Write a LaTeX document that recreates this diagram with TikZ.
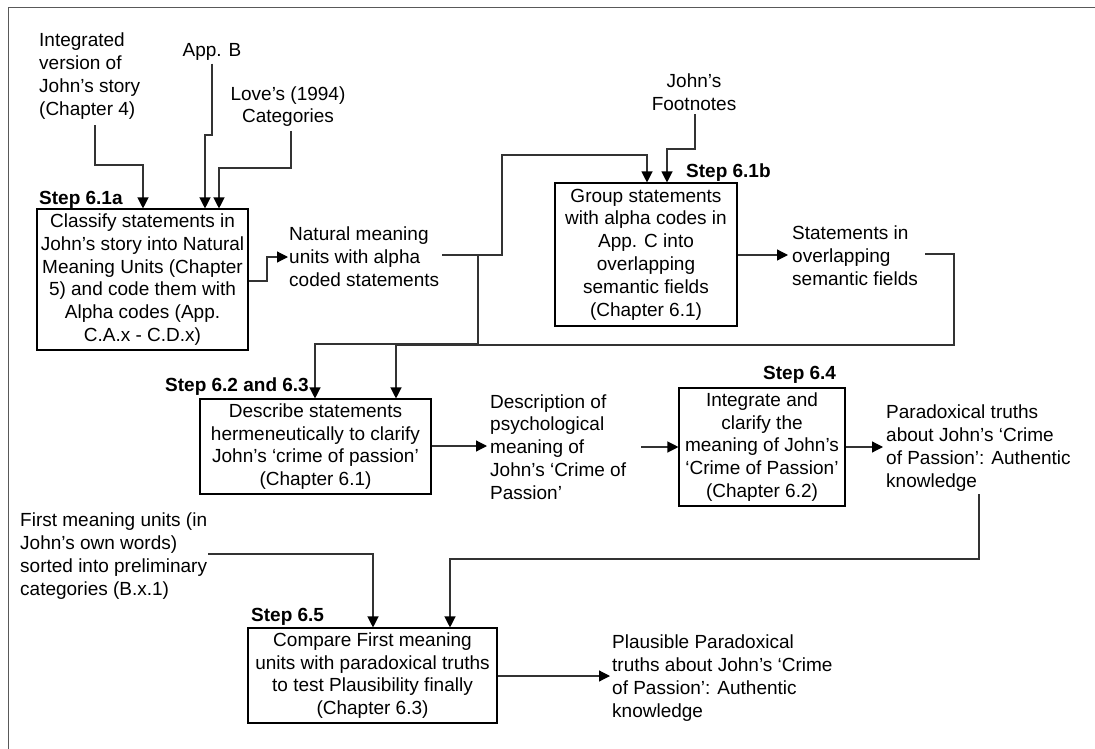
\documentclass[tikz,border=0pt]{standalone}
\usepackage{fontspec}
\setmainfont{Liberation Sans}
\usetikzlibrary{arrows.meta}
\begin{document}
\begin{tikzpicture}[x=1pt,y=-1pt,
  every node/.style={font=\fontsize{19}{22.8}\selectfont},
  box/.style={draw=black, line width=1.1pt, inner sep=1pt, align=center},
  txt/.style={inner sep=0pt, align=left, anchor=west},
  ctxt/.style={inner sep=0pt, align=center},
  steplbl/.style={inner sep=0pt, anchor=west, font=\fontsize{19}{22.8}\selectfont\bfseries},
  conn/.style={draw=black!80, line width=1.2pt},
  arr/.style={conn, -{Triangle[length=11pt,width=11pt,color=black]}}
]
\useasboundingbox (0,0) rectangle (1095,749);
% frame (top and left edges)
\draw[draw=black!65, line width=1.6pt] (8.5,749) -- (8.5,7.5) -- (1095,7.5);

% boxes
\node[box, minimum width=211pt, minimum height=141pt] (b1a) at (142.5,279.5)
  {Classify statements in\\John’s story into Natural\\Meaning Units (Chapter\\5) and code them with\\Alpha codes (App.\\C.A.x - C.D.x)};
\node[box, minimum width=182pt, minimum height=143pt] (b1b) at (646,254.5)
  {Group statements\\with alpha codes in\\App. C into\\overlapping\\semantic fields\\(Chapter 6.1)};
\node[box, minimum width=231pt, minimum height=95pt] (b2) at (315.5,446.5)
  {Describe statements\\hermeneutically to clarify\\John’s ‘crime of passion’\\(Chapter 6.1)};
\node[box, minimum width=166pt, minimum height=118pt] (b4) at (762,447)
  {Integrate and\\clarify the\\meaning of John’s\\‘Crime of Passion’\\(Chapter 6.2)};
\node[box, minimum width=249pt, minimum height=95pt] (b5) at (372.5,675.5)
  {Compare First meaning\\units with paradoxical truths\\to test Plausibility finally\\(Chapter 6.3)};

% step labels
\node[steplbl] (s1a) at (39,200) {Step 6.1a};
\node[steplbl] (s1b) at (686,173) {Step 6.1b};
\node[steplbl] (s2) at (165,387) {Step 6.2 and 6.3};
\node[steplbl] (s4) at (763,375) {Step 6.4};
\node[steplbl] (s5) at (251,617) {Step 6.5};

% free texts
\node[txt] (intg) at (39,76) {Integrated\\version of\\John’s story\\(Chapter 4)};
\node[ctxt] (appb) at (212,52) {App. B};
\node[ctxt] (love) at (288,106.5) {Love’s (1994)\\Categories};
\node[ctxt] (foot) at (694,92.5) {John’s\\Footnotes};
\node[txt] (natural) at (289,257) {Natural meaning\\units with alpha\\coded statements};
\node[txt] (stmts) at (792,256) {Statements in\\overlapping\\semantic fields};
\node[txt] (desc) at (490,447) {Description of\\psychological\\meaning of\\John’s ‘Crime of\\Passion’};
\node[txt] (para) at (886,448) {Paradoxical truths\\about John’s ‘Crime\\of Passion’: Authentic\\knowledge};
\node[txt] (first) at (20,556) {First meaning units (in\\John’s own words)\\sorted into preliminary\\categories (B.x.1)};
\node[txt] (plaus) at (612,678) {Plausible Paradoxical\\truths about John’s ‘Crime\\of Passion’: Authentic\\knowledge};

% connectors into step 6.1a
\draw[arr] (intg.south -| 95,0) ++(0,6) |- (143,165) -- (b1a.north -| 143,0);
\draw[arr] (appb.south) ++(0,3) |- (205,135) -- (b1a.north -| 205,0);
\draw[arr] (love.south -| 291,0) ++(0,4) |- (219,168) -- (b1a.north -| 219,0);

% 6.1a -> natural meaning units
\draw[arr] (b1a.east |- 0,281) -- (267,281) |- ([xshift=-1pt]natural.west);

% natural meaning units -> 6.1b (loop over)
\draw[arr] (natural.east) ++(3,-2) -| (502,155) -| (b1b.north -| 647,0);
\coordinate (j1) at (478,255);
\draw[arr] (j1) -- (478,344) -| (b2.north -| 315,0);

% footnotes -> 6.1b
\draw[arr] (foot.south -| 695,0) ++(0,3) |- (667,149) -- (b1b.north -| 667,0);

% 6.1b -> statements
\draw[arr] (b1b.east |- 0,255) -- ([xshift=-4pt]stmts.west |- 0,255);

% statements -> 6.2
\draw[arr] (stmts.east |- 0,254) ++(7,0) -| (954,345) -| (b2.north -| 396,0);

% 6.2 -> description -> 6.4 -> paradoxical
\draw[arr] (b2.east |- 0,446) -- ([xshift=-3pt]desc.west |- 0,446);
\draw[arr] (desc.east |- 0,447) ++(15,0) -- (b4.west |- 0,447);
\draw[arr] (b4.east |- 0,447) -- ([xshift=-3pt]para.west |- 0,447);

% paradoxical -> 6.5
\draw[arr] (para.south -| 979,0) ++(0,3) -- (979,559) -| (b5.north -| 450,0);
% first meaning units -> 6.5
\draw[arr] (first.east |- 0,554) ++(1,0) -| (b5.north -| 373,0);
% 6.5 -> plausible
\draw[arr] (b5.east |- 0,676) -- ([xshift=-2pt]plaus.west |- 0,676);
\end{tikzpicture}
\end{document}
